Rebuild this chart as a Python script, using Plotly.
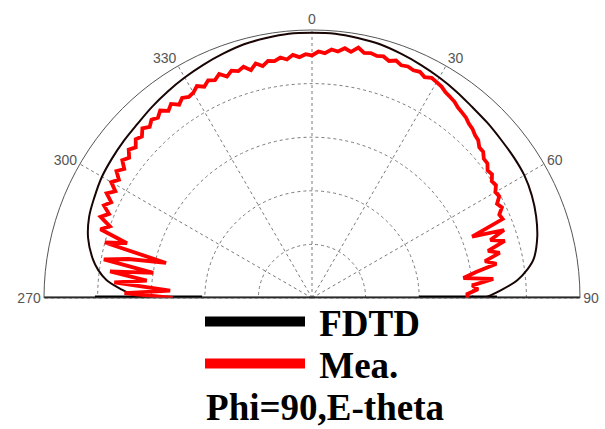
import plotly.graph_objects as go

# ---- data ----
fdtd_theta = [-90, -89, -87.5, -85, -82.5, -80, -75, -70, -65, -60, -55, -50, -45, -40, -35, -30, -25, -20, -15, -10, -5,
              0, 5, 10, 15, 20, 25, 30, 35, 40, 45, 50, 55, 60, 65, 70, 75, 80, 82.5, 85, 87.5, 89, 90]
fdtd_r = [0.64, 0.67, 0.71, 0.77, 0.805, 0.83, 0.865, 0.885, 0.895, 0.905, 0.91, 0.915, 0.92, 0.93, 0.94, 0.95, 0.96, 0.97, 0.98, 0.985, 0.99,
          0.99, 0.99, 0.985, 0.98, 0.97, 0.96, 0.95, 0.94, 0.93, 0.925, 0.92, 0.918, 0.915, 0.905, 0.89, 0.87, 0.84, 0.81, 0.77, 0.71, 0.67, 0.64]

# FDTD values lying on the 90/270 line (flattened tails)
fdtd_axis_theta = [-90, -90, None, 90, 90]
fdtd_axis_r = [0.81, 0.41, None, 0.40, 0.69]

mea_theta = [-90, -88.5, -87, -85.5, -84, -82.5, -81, -79.5, -78, -76.5,
             -75, -73.5, -72, -70.5, -69, -67.5, -66, -64.5, -63, -61.5,
             -60, -58.5, -57, -55.5, -54, -52.5, -51, -49.5, -48, -46.5,
             -45, -43.5, -42, -40.5, -39, -37.5, -36, -34.5, -33, -31.5,
             -30, -28.5, -27, -25.5, -24, -22.5, -21, -19.5, -18, -16.5,
             -15, -13.5, -12, -10.5, -9, -7.5, -6, -4.5, -3, -1.5,
             0, 1.5, 3, 4.5, 6, 7.5, 9, 10.5, 12, 13.5,
             15, 16.5, 18, 19.5, 21, 22.5, 24, 25.5, 27, 28.5,
             30, 31.5, 33, 34.5, 36, 37.5, 39, 40.5, 42, 43.5,
             45, 46.5, 48, 49.5, 51, 52.5, 54, 55.5, 57, 58.5,
             60, 61.5, 63, 64.5, 66, 67.5, 69, 70.5, 72, 73.5,
             75, 76.5, 78, 79.5, 81, 82.5, 84, 85.5, 87, 88.5,
             90]
mea_r = [0.52, 0.70, 0.53, 0.74, 0.62, 0.76, 0.60, 0.79, 0.70, 0.56,
         0.80, 0.72, 0.83, 0.80, 0.845, 0.82, 0.85, 0.83, 0.86, 0.835,
         0.865, 0.845, 0.87, 0.85, 0.875, 0.86, 0.88, 0.865, 0.885, 0.875,
         0.895, 0.88, 0.895, 0.885, 0.90, 0.88, 0.895, 0.875, 0.89, 0.88,
         0.885, 0.90, 0.885, 0.90, 0.89, 0.905, 0.885, 0.90, 0.89, 0.90,
         0.88, 0.90, 0.885, 0.90, 0.895, 0.905, 0.895, 0.91, 0.90, 0.91,
         0.905, 0.92, 0.915, 0.93, 0.925, 0.94, 0.93, 0.95, 0.935, 0.94,
         0.935, 0.94, 0.93, 0.94, 0.93, 0.935, 0.93, 0.935, 0.925, 0.935,
         0.93, 0.925, 0.915, 0.91, 0.905, 0.895, 0.89, 0.885, 0.875, 0.87,
         0.86, 0.855, 0.84, 0.84, 0.825, 0.825, 0.81, 0.815, 0.80, 0.805,
         0.79, 0.795, 0.775, 0.785, 0.765, 0.77, 0.64, 0.76, 0.70, 0.75,
         0.68, 0.72, 0.66, 0.70, 0.62, 0.57, 0.68, 0.60, 0.62, 0.58,
         0.58]

angle_ticks = [-90, -60, -30, 0, 30, 60, 90]
angle_labels = ["270", "300", "330", "0", "30", "60", "90"]
radial_ticks = [0.2, 0.4, 0.6, 0.8]
baseline_theta = [-90, 90]
baseline_r = [1, 1]

NB = "\u00a0"

fig = go.Figure()

fig.add_trace(go.Scatterpolar(theta=baseline_theta, r=baseline_r, mode="lines",
                              line=dict(color="black", width=3), showlegend=False, hoverinfo="skip"))
fig.add_trace(go.Scatterpolar(theta=fdtd_axis_theta, r=fdtd_axis_r, mode="lines",
                              line=dict(color="black", width=5), showlegend=False, connectgaps=False))
fig.add_trace(go.Scatterpolar(theta=fdtd_theta, r=fdtd_r, mode="lines", line_shape="spline",
                              line=dict(color="#1a0505", width=2), showlegend=False))
fig.add_trace(go.Scatterpolar(theta=mea_theta, r=mea_r, mode="lines",
                              line=dict(color="#ff0000", width=3.8), showlegend=False))
# legend entries
fig.add_trace(go.Scatterpolar(theta=[None], r=[None], mode="lines", name=NB + "FDTD",
                              line=dict(color="black", width=10), legend="legend"))
fig.add_trace(go.Scatterpolar(theta=[None], r=[None], mode="lines", name=NB + "Mea.",
                              line=dict(color="#ff0000", width=10), legend="legend2"))

W, H = 605, 429
legend_font = dict(family="Liberation Serif", size=37, color="black", weight="bold")
fig.update_layout(
    width=W, height=H,
    margin=dict(l=0, r=0, t=0, b=0),
    paper_bgcolor="white", plot_bgcolor="white",
    polar=dict(
        domain=dict(x=[44 / W, 580 / W], y=[(H - 298) / H, (H - 30) / H]),
        sector=[0, 180],
        bgcolor="white",
        angularaxis=dict(rotation=90, direction="clockwise", tickmode="array",
                         tickvals=angle_ticks, ticktext=angle_labels, ticks="",
                         showline=True, linecolor="#555555", linewidth=1,
                         showgrid=True, gridcolor="#7a7a7a", griddash="dot", gridwidth=1.2,
                         tickfont=dict(family="Liberation Sans", size=14, color="#555555")),
        radialaxis=dict(range=[0, 1], tickmode="array", tickvals=radial_ticks,
                        showticklabels=False, ticks="", showline=False,
                        showgrid=True, gridcolor="#7a7a7a", griddash="dot", gridwidth=1.2),
    ),
    legend=dict(x=200 / W, xanchor="left", y=(H - 322) / H, yanchor="middle",
                bgcolor="rgba(0,0,0,0)", itemwidth=100, font=legend_font),
    legend2=dict(x=200 / W, xanchor="left", y=(H - 364) / H, yanchor="middle",
                 bgcolor="rgba(0,0,0,0)", itemwidth=100, font=legend_font),
    title=dict(text="Phi=90,E-theta", x=325 / W, xanchor="center", xref="paper",
               yref="container", y=1 - 407 / H, yanchor="middle",
               font=dict(family="Liberation Serif", size=37, color="black", weight="bold")),
)

fig.write_html("out.html")
